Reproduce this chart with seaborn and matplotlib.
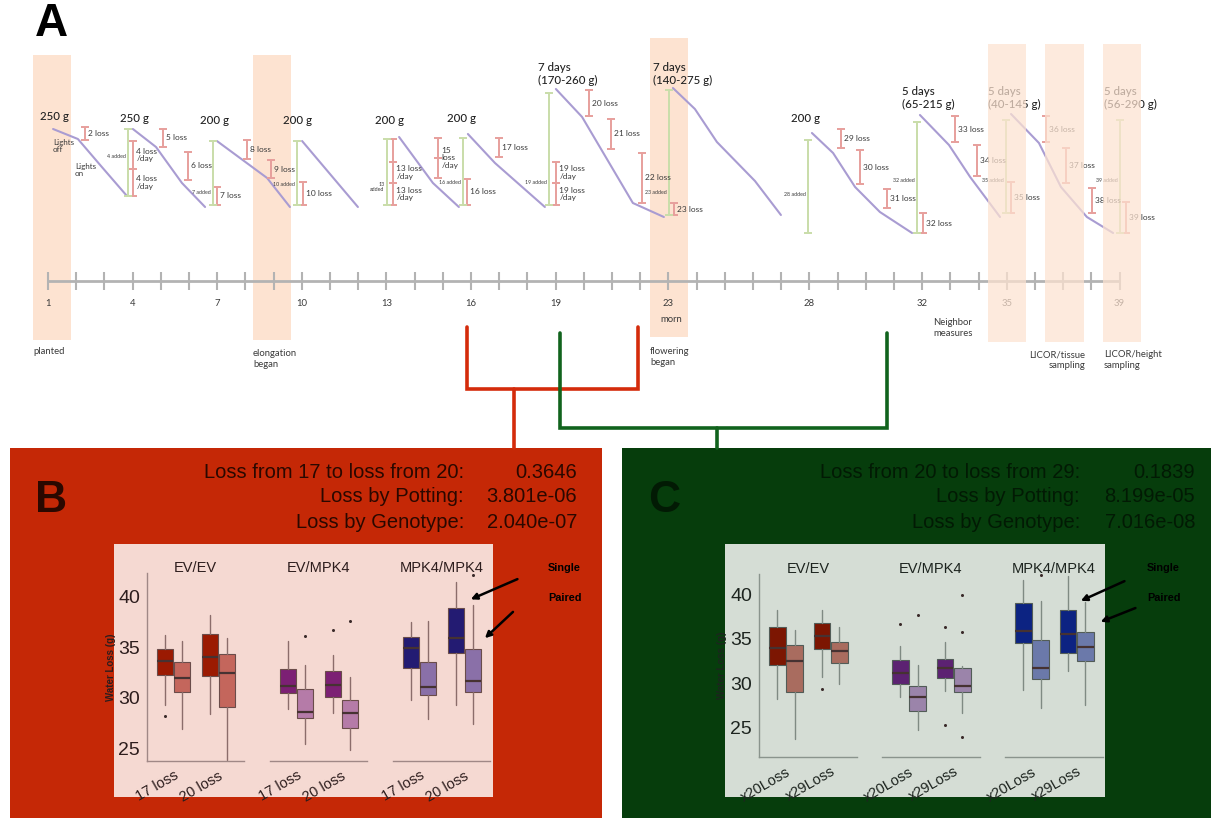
import matplotlib
matplotlib.use("Agg")
import matplotlib.pyplot as plt
import numpy as np
import pandas as pd
import seaborn as sns

W, H = 1211, 818

# ---------------- panel A: watering schedule ----------------
tick_days = np.arange(1, 40)
label_days = [1, 4, 7, 10, 13, 16, 19, 23, 28, 32, 35, 39]

shade_start = [0.47, 8.27, 22.35, 34.33, 36.35, 38.41]
shade_end = [1.82, 9.62, 23.70, 35.68, 37.74, 39.76]
shade_top = [55, 55, 38, 44, 44, 44]
shade_bottom = [340, 340, 337, 342, 342, 342]
shade_front = [False, False, False, True, True, True]

# pot weight decline between waterings (level axis is schematic, 0 = top)
cycle_days = [[1.18, 2.06, 2.91, 3.80], [4.01, 4.83, 5.75, 6.57], [6.99, 8.77, 9.58],
              [10.01, 11.99], [13.45, 14.65, 15.57], [15.89, 16.85, 18.62],
              [19.01, 19.94, 21.74, 22.84], [23.16, 23.94, 24.72, 26.07, 26.99],
              [28.09, 28.84, 29.62, 30.50, 31.64], [31.92, 32.95, 33.70, 34.76],
              [35.15, 36.14, 36.92, 37.84, 38.77]]
cycle_levels = [[129, 139, 167, 196], [129, 147, 183, 207], [141, 178, 207],
                [141, 207], [137, 183, 207], [134, 163, 207],
                [89, 117, 203, 217], [88, 109, 142, 181, 215],
                [133, 153, 187, 212, 233], [115, 145, 177, 217],
                [114, 143, 187, 217, 233]]

loss_day = [2.31, 4.01, 4.01, 5.08, 5.96, 6.99, 8.06, 8.91, 10.04, 13.23, 13.23, 13.23,
            14.83, 14.83, 15.86, 16.99, 19.01, 19.01, 20.18, 20.96, 22.06, 23.20,
            29.12, 29.79, 30.75, 32.03, 33.16, 33.94, 35.15, 36.39, 37.10, 38.02, 39.23]
loss_top = [127, 141, 169, 129, 152, 187, 140, 160, 182, 139, 162, 183, 138, 158, 179, 138,
            162, 183, 90, 119, 153, 203, 129, 150, 189, 213, 116, 145, 182, 116, 148, 188, 202]
loss_bottom = [140, 169, 196, 147, 180, 205, 159, 178, 205, 162, 183, 205, 158, 178, 205, 157,
               183, 205, 116, 149, 203, 215, 148, 184, 208, 233, 142, 176, 213, 142, 183, 213, 233]
loss_text = ['2 loss', '4 loss\n/day', '4 loss\n/day', '5 loss', '6 loss', '7 loss', '8 loss',
             '9 loss', '10 loss', '', '13 loss\n/day', '13 loss\n/day', '', '15\nloss\n/day',
             '16 loss', '17 loss', '19 loss\n/day', '19 loss\n/day', '20 loss', '21 loss',
             '22 loss', '23 loss', '29 loss', '30 loss', '31 loss', '32 loss', '33 loss',
             '34 loss', '35 loss', '36 loss', '37 loss', '38 loss', '39 loss']

add_day = [3.84, 6.85, 9.83, 13.02, 15.72, 18.77, 23.02, 27.95, 31.82, 34.97, 39.01]
add_top = [129, 141, 141, 139, 138, 93, 90, 140, 122, 120, 120]
add_bottom = [196, 205, 205, 205, 205, 205, 215, 233, 233, 213, 233]
add_text = ['4 added', '7 added', '10 added', '13\nadded', '16 added', '19 added',
            '23 added', '28 added', '32 added', '35 added', '39 added']
add_level = [157, 192, 184, 187, 183, 183, 193, 195, 181, 181, 180]

pot_day = [0.72, 3.55, 6.39, 9.33, 12.60, 15.15, 18.38, 22.45, 27.35, 31.28, 34.33, 38.45]
pot_level = [117, 119, 121, 121, 120, 118, 74, 74, 118, 98, 98, 98]
pot_text = ['250 g', '250 g', '200 g', '200 g', '200 g', '200 g', '7 days\n(170-260 g)',
            '7 days\n(140-275 g)', '200 g', '5 days\n(65-215 g)', '5 days\n(40-145 g)',
            '5 days\n(56-290 g)']

light_day = [1.18, 1.96]
light_level = [146, 170]
light_text = ['Lights\noff', 'Lights\non']

event_day = [0.47, 8.27, 22.70, 22.35, 32.38, 37.77, 38.45]
event_level = [352, 359, 320, 357, 328, 360, 360]
event_text = ['planted', 'elongation\nbegan', 'morn', 'flowering\nbegan', 'Neighbor\nmeasures',
              'LICOR/tissue\nsampling', 'LICOR/height\nsampling']
event_ha = ['left', 'left', 'left', 'left', 'left', 'right', 'left']

link_left = [15.86, 19.16]
link_right = [21.92, 30.75]
link_top = [327, 333]
link_join = [389, 428]
link_stem = [17.52, 24.72]
link_color = ['#d42b0b', '#11631d']

# ---------------- panels B and C: water loss box plots ----------------
genotypes = ['EV/EV', 'EV/MPK4', 'MPK4/MPK4']
b_days = ['17 loss', '20 loss']
c_days = ['x20Loss', 'x29Loss']
# order in each genotype: day1 single, day1 paired, day2 single, day2 paired
b_whislo = [29.35, 26.9, 28.4, 23.9, 28.9, 25.5, 28.5, 24.9, 29.8, 27.9, 29.35, 27.4]
b_q1 = [32.23, 30.6, 32.2, 29.1, 30.5, 28.06, 30.06, 27.0, 33.0, 30.3, 34.45, 30.6]
b_med = [33.65, 32.0, 34.0, 32.5, 31.2, 28.6, 31.3, 28.55, 34.9, 31.1, 35.9, 31.7]
b_q3 = [34.84, 33.55, 36.3, 34.35, 32.9, 30.9, 32.7, 29.8, 36.0, 33.5, 38.9, 34.8]
b_whishi = [36.2, 35.6, 38.2, 35.9, 35.6, 33.2, 34.2, 32.1, 37.5, 37.6, 41.4, 39.2]
b_fliers = [[28.2], [], [], [], [], [36.1], [36.7], [37.6], [], [], [], [42.1]]

c_whislo = [28.2, 23.75, 30.7, 29.96, 28.4, 24.7, 29.1, 26.7, 29.2, 27.25, 31.4, 27.6]
c_q1 = [32.1, 29.0, 33.9, 32.3, 29.96, 26.9, 30.6, 29.03, 34.5, 30.5, 33.4, 32.5]
c_med = [34.0, 32.5, 35.3, 33.6, 31.2, 28.4, 31.7, 29.7, 35.9, 31.7, 35.6, 34.05]
c_q3 = [36.3, 34.3, 36.8, 34.7, 32.6, 29.7, 32.7, 31.7, 39.0, 34.9, 38.3, 35.8]
c_whishi = [38.25, 36.0, 38.2, 36.35, 34.2, 32.1, 34.7, 31.9, 41.6, 39.3, 42.1, 39.1]
c_fliers = [[], [], [29.3], [], [36.7], [37.7], [36.3, 25.3], [35.8, 39.9, 23.9],
            [], [42.15], [], []]

b_colors = ['#9b1a02', '#c4665c', '#7c2074', '#b57ba8', '#231b72', '#8a70a8']
c_colors = ['#7c1602', '#a96c5f', '#5c2272', '#9b84aa', '#0c2382', '#6b79aa']

b_header = ['Loss from 17 to loss from 20:', 'Loss by Potting:', 'Loss by Genotype:']
b_pvals = ['0.3646', '3.801e-06', '2.040e-07']
c_header = ['Loss from 20 to loss from 29:', 'Loss by Potting:', 'Loss by Genotype:']
c_pvals = ['0.1839', '8.199e-05', '7.016e-08']

sns.set_theme(style="white")
plt.rcParams['font.family'] = ['Liberation Sans', 'DejaVu Sans']
A_FONT = ['Lato', 'DejaVu Sans']
A_TXT = '#3a3a3a'

fig = plt.figure(figsize=(W / 100, H / 100), dpi=100)

# background layer, pixel coordinates
ax_bg = fig.add_axes([0, 0, 1, 1])
ax_bg.set_xlim(0, W)
ax_bg.set_ylim(H, 0)
ax_bg.axis('off')
for x0, y0, x1, y1, col in [(10, 448, 602, 818, '#c52806'), (622, 448, W, 818, '#063d0c'),
                            (114, 544, 493, 797, '#f5d9d2'), (725, 544, 1105, 797, '#d5ddd5')]:
    ax_bg.add_patch(plt.Rectangle((x0, y0), x1 - x0, y1 - y0, color=col, lw=0))
ax_bg.text(35, 24, 'A', fontsize=33, fontweight='heavy', color='black', va='center')
ax_bg.text(35, 500, 'B', fontsize=32, fontweight='bold', color='#2a0800', va='center')
ax_bg.text(648, 500, 'C', fontsize=32, fontweight='bold', color='#021a04', va='center')
for i, row in enumerate([472, 497, 522]):
    ax_bg.text(464, row, b_header[i], ha='right', va='center', fontsize=14.5, color='#2a0800')
    ax_bg.text(577, row, b_pvals[i], ha='right', va='center', fontsize=14.5, color='#2a0800')
    ax_bg.text(1080, row, c_header[i], ha='right', va='center', fontsize=14.5, color='#021a04')
    ax_bg.text(1195, row, c_pvals[i], ha='right', va='center', fontsize=14.5, color='#021a04')

# panel A layer: x in days, y schematic level
ax_a = fig.add_axes([0, 0, 1, 1], facecolor='none')
for front in [False, True]:
    idx = [i for i, f in enumerate(shade_front) if f == front]
    starts = np.array(shade_start)[idx]
    ends = np.array(shade_end)[idx]
    tops = np.array(shade_top)[idx]
    bots = np.array(shade_bottom)[idx]
    ax_a.bar((starts + ends) / 2, bots - tops, bottom=tops, width=ends - starts,
             color='#fde3d1', alpha=0.72 if front else 1.0, zorder=6 if front else 0, lw=0)

cyc = pd.DataFrame({
    'day': np.concatenate(cycle_days),
    'level': np.concatenate(cycle_levels),
    'cycle': np.repeat(np.arange(len(cycle_days)), [len(c) for c in cycle_days]),
})
sns.lineplot(data=cyc, x='day', y='level', units='cycle', estimator=None, sort=False,
             color='#a99cd2', lw=1.5, ax=ax_a, zorder=3)

loss_mid = (np.array(loss_top) + np.array(loss_bottom)) / 2
loss_half = (np.array(loss_bottom) - np.array(loss_top)) / 2
ax_a.errorbar(loss_day, loss_mid, yerr=loss_half, fmt='none', ecolor='#e79f9c',
              elinewidth=1.4, capsize=3, capthick=1.4, zorder=4)
for d, m, t in zip(loss_day, loss_mid, loss_text):
    if t.startswith('15'):
        m = m - 10
    ax_a.text(d + 0.12, m, t, fontsize=6, va='center', ha='left', color=A_TXT,
              family=A_FONT, linespacing=1.15, zorder=5)

add_mid = (np.array(add_top) + np.array(add_bottom)) / 2
add_half = (np.array(add_bottom) - np.array(add_top)) / 2
ax_a.errorbar(add_day, add_mid, yerr=add_half, fmt='none', ecolor='#c9dda9',
              elinewidth=1.4, capsize=3, capthick=1.4, zorder=4)
for d, lv, t in zip(add_day, add_level, add_text):
    ax_a.text(d - 0.08, lv, t, fontsize=3.8, va='center', ha='right', color=A_TXT,
              family=A_FONT, linespacing=1.0, zorder=5)

for d, lv, t in zip(pot_day, pot_level, pot_text):
    ax_a.text(d, lv, t, fontsize=8.3, va='center', ha='left', color='#222222',
              family=A_FONT, fontweight='medium', linespacing=1.25, zorder=5)
for d, lv, t in zip(light_day, light_level, light_text):
    ax_a.text(d, lv, t, fontsize=5.8, va='center', ha='left', color=A_TXT,
              family=A_FONT, linespacing=1.1, zorder=5)

ax_a.hlines(281, tick_days[0], tick_days[-1], color='#b3b3b3', lw=2, zorder=2)
ax_a.vlines(tick_days, 272, 290, color='#b3b3b3', lw=1.5, zorder=2)
for d in label_days:
    ax_a.text(d, 304, str(d), fontsize=6.8, ha='center', va='center', color=A_TXT,
              family=A_FONT, zorder=5)
for d, lv, t, ha in zip(event_day, event_level, event_text, event_ha):
    ax_a.text(d, lv, t, fontsize=6.8, ha=ha, va='center', color=A_TXT, family=A_FONT,
              multialignment=ha, linespacing=1.2, zorder=5)

for l, r, t, j, s, col in zip(link_left, link_right, link_top, link_join, link_stem, link_color):
    ax_a.plot([l, l, r, r], [t, j, j, t], color=col, lw=2.6, solid_joinstyle='miter', zorder=7)
    ax_a.plot([s, s], [j, 448], color=col, lw=2.6, zorder=7)

ax_a.set_xlim(1 - 48 / 28.2, 1 + (W - 48) / 28.2)
ax_a.set_ylim(H, 0)
ax_a.axis('off')


def px_axes(x0, x1, y0, y1):
    return fig.add_axes([x0 / W, 1 - y1 / H, (x1 - x0) / W, (y1 - y0) / H], facecolor='none')


def box_panel(xspans, y0, y1, ylim, whislo, q1, med, q3, whishi, fliers, colors, days,
              edge, whisk, spine, txt, ylab_x):
    axes = []
    for g, (x0, x1) in enumerate(xspans):
        ax = px_axes(x0, x1, y0, y1)
        sl = slice(4 * g, 4 * g + 4)
        stats = [dict(whislo=a, q1=b, med=c, q3=d, whishi=e, fliers=f)
                 for a, b, c, d, e, f in zip(whislo[sl], q1[sl], med[sl], q3[sl],
                                             whishi[sl], fliers[sl])]
        parts = ax.bxp(stats, positions=[-0.19, 0.19, 0.81, 1.19], widths=0.36,
                       patch_artist=True, showcaps=False,
                       medianprops=dict(color='#463232', lw=1.6),
                       whiskerprops=dict(color=whisk, lw=1.0),
                       flierprops=dict(marker='o', markersize=2.2, markerfacecolor='#3a2a2a',
                                       markeredgecolor='none'))
        for k, box in enumerate(parts['boxes']):
            box.set_facecolor(colors[2 * g + k % 2])
            box.set_edgecolor(edge)
            box.set_linewidth(0.8)
        ax.set_xlim(-0.6, 1.58)
        ax.set_ylim(*ylim)
        ax.set_xticks([0, 1])
        ax.set_xticklabels(days, rotation=30, ha='right', rotation_mode='anchor',
                           fontsize=10.5, color=txt)
        ax.tick_params(axis='x', length=2.5, width=0.8, color=spine, pad=3)
        ax.set_title(genotypes[g], fontsize=10.5, color=txt, pad=1)
        sns.despine(ax=ax, left=g > 0)
        for side in ['left', 'bottom']:
            ax.spines[side].set_color(spine)
            ax.spines[side].set_linewidth(1.0)
        if g == 0:
            ax.set_yticks([25, 30, 35, 40])
            ax.tick_params(axis='y', length=0, labelsize=14, labelcolor=txt, pad=5)
            ax.set_ylabel('Water Loss (g)', fontsize=7, fontweight='bold', color=txt)
            ax.yaxis.set_label_coords(ylab_x, 0.5)
        else:
            ax.set_yticks([])
        ax.grid(False)
        axes.append(ax)
    return axes


b_axes = box_panel([(147, 244), (270, 367), (393, 490)], 573, 761, (23.8, 42.3),
                   b_whislo, b_q1, b_med, b_q3, b_whishi, b_fliers, b_colors, b_days,
                   '#6a4c4a', '#8b6d6b', '#a08886', '#2d1d1d', -0.32)
c_axes = box_panel([(759, 857), (882, 980), (1005, 1103)], 574, 757, (21.7, 42.3),
                   c_whislo, c_q1, c_med, c_q3, c_whishi, c_fliers, c_colors, c_days,
                   '#525c57', '#7f8a83', '#8a948d', '#1d241f', -0.33)

# Single / Paired call-outs
for ax, tx, tips, tails in [(b_axes[2], 548, [(1.09, 39.6), (1.42, 35.7)], [(520, 578), (515, 610)]),
                            (c_axes[2], 1147, [(1.03, 39.15), (1.47, 36.8)], [(1127, 580), (1138, 607)])]:
    for lab, row, tip, tail in zip(['Single', 'Paired'], [568, 598], tips, tails):
        ax_bg.text(tx, row, lab, fontsize=7.8, fontweight='bold', color='black', va='center')
        ax.annotate('', xy=tip, xycoords='data', xytext=tail, textcoords=ax_bg.transData,
                    arrowprops=dict(arrowstyle='-|>', color='black', lw=1.8, mutation_scale=9))

fig.savefig('out.png', dpi=100)
